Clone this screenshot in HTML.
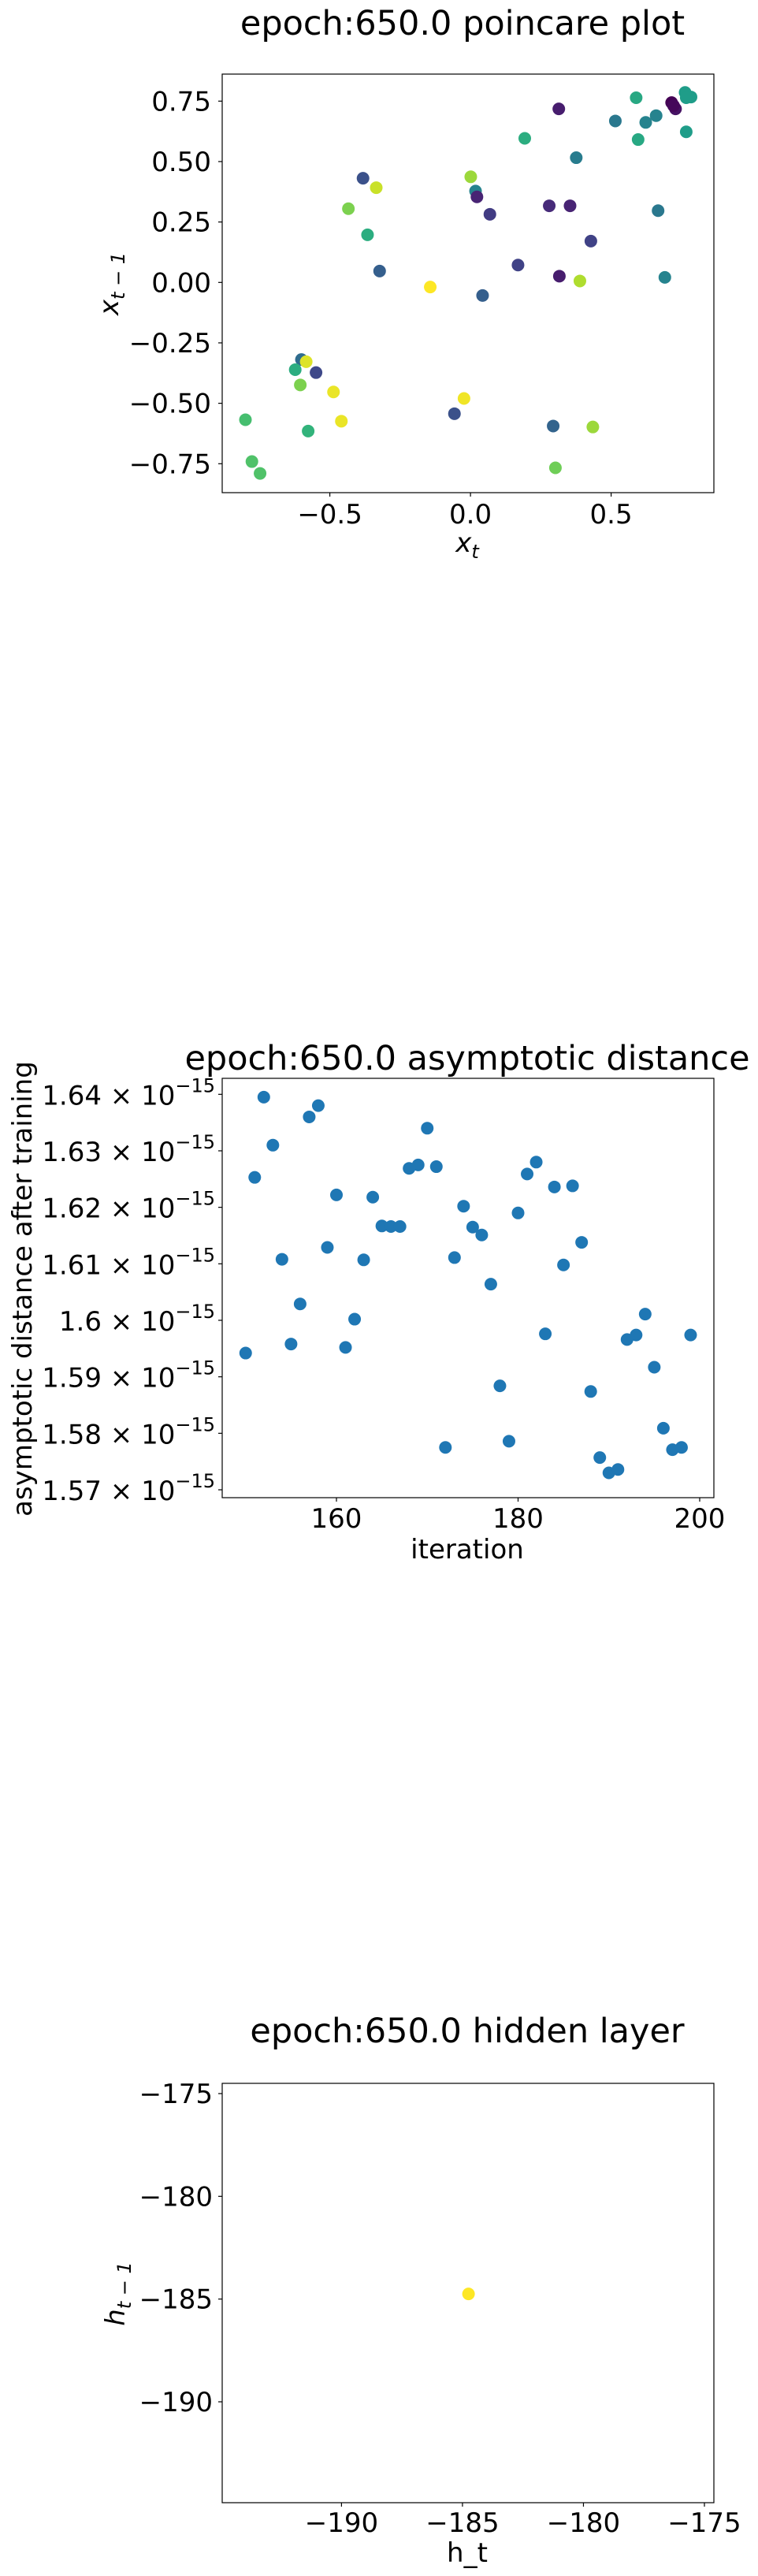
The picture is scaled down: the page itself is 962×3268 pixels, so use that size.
<!DOCTYPE html>
<html><head><meta charset="utf-8"><title>epoch 650 plots</title>
<style>
html,body{margin:0;padding:0;background:#fff;}
svg{display:block;font-family:"DejaVu Sans","Liberation Sans",sans-serif;}
</style></head>
<body>
<svg id="fig" width="962" height="3268" viewBox="0 0 962 3268" xmlns="http://www.w3.org/2000/svg"></svg>
<script>
// ---- Chart 1: poincare plot data ----
const poincareX = [0.715,0.729,0.722,0.763,0.784,0.767,0.589,0.314,0.515,0.623,0.660,0.767,0.596,0.193,0.376,-0.382,-0.335,0.001,0.018,0.023,0.069,0.280,0.354,-0.434,0.667,-0.366,0.428,0.169,-0.323,0.316,0.389,0.691,-0.143,0.043,-0.601,-0.584,-0.623,-0.549,-0.605,-0.487,-0.023,-0.057,-0.800,-0.459,-0.577,0.294,0.435,-0.777,-0.748,0.302];
const poincareY = [0.744,0.718,0.731,0.786,0.767,0.764,0.764,0.718,0.668,0.662,0.690,0.623,0.591,0.596,0.516,0.431,0.392,0.437,0.378,0.354,0.282,0.317,0.317,0.305,0.297,0.197,0.171,0.072,0.047,0.026,0.006,0.021,-0.019,-0.054,-0.319,-0.328,-0.361,-0.373,-0.424,-0.453,-0.480,-0.543,-0.568,-0.574,-0.615,-0.594,-0.598,-0.741,-0.790,-0.767];
const poincareC = [0.0,0.05,0.02,0.55,0.55,0.55,0.6,0.08,0.4,0.45,0.45,0.55,0.6,0.62,0.42,0.25,0.92,0.85,0.45,0.1,0.18,0.12,0.1,0.8,0.4,0.62,0.2,0.2,0.3,0.08,0.88,0.45,1.0,0.3,0.35,0.95,0.62,0.22,0.8,0.97,0.98,0.25,0.7,0.97,0.65,0.32,0.85,0.72,0.72,0.78];
const poincareXTicks = [-0.5,0.0,0.5];
const poincareXTickLabels = ["\u22120.5","0.0","0.5"];
const poincareYTicks = [0.75,0.5,0.25,0,-0.25,-0.5,-0.75];
const poincareYTickLabels = ["0.75","0.50","0.25","0.00","\u22120.25","\u22120.50","\u22120.75"];

// ---- Chart 2: asymptotic distance data (units of 1e-15) ----
const iterations = [150,151,152,153,154,155,156,157,158,159,160,161,162,163,164,165,166,167,168,169,170,171,172,173,174,175,176,177,178,179,180,181,182,183,184,185,186,187,188,189,190,191,192,193,194,195,196,197,198,199];
const asymDist = [1.5942,1.6253,1.6395,1.6310,1.6108,1.5958,1.6029,1.6360,1.6380,1.6129,1.6222,1.5952,1.6002,1.6107,1.6218,1.6167,1.6166,1.6166,1.6269,1.6275,1.6340,1.6272,1.5775,1.6111,1.6202,1.6165,1.6151,1.6064,1.5884,1.5786,1.6190,1.6259,1.6280,1.5976,1.6236,1.6098,1.6238,1.6138,1.5874,1.5757,1.5730,1.5736,1.5966,1.5974,1.6011,1.5917,1.5809,1.5771,1.5775,1.5974];
const asymXTicks = [160,180,200];
const asymXTickLabels = ["160","180","200"];
const asymYTicks = [1.64,1.63,1.62,1.61,1.60,1.59,1.58,1.57];
const asymYTickLabels = ["1.64","1.63","1.62","1.61","1.6","1.59","1.58","1.57"];

// ---- Chart 3: hidden layer data ----
const hiddenX = [-184.75];
const hiddenY = [-184.75];
const hiddenC = [1.0];
const hiddenXTicks = [-190,-185,-180,-175];
const hiddenXTickLabels = ["\u2212190","\u2212185","\u2212180","\u2212175"];
const hiddenYTicks = [-175,-180,-185,-190];
const hiddenYTickLabels = ["\u2212175","\u2212180","\u2212185","\u2212190"];

const NS = "http://www.w3.org/2000/svg";
const fig = document.getElementById('fig');
function mk(tag, attrs, parent){
  const e = document.createElementNS(NS, tag);
  for (const k in attrs) e.setAttribute(k, attrs[k]);
  (parent||fig).appendChild(e);
  return e;
}
const VIR = [[68,1,84],[72,40,120],[62,73,137],[49,104,142],[38,130,142],[31,158,137],[53,183,121],[110,206,88],[181,222,43],[253,231,37]];
function viridis(t){
  t = Math.max(0, Math.min(1, t));
  const s = t*(VIR.length-1), i = Math.min(Math.floor(s), VIR.length-2), f = s-i;
  const c = VIR[i].map((v,k)=>Math.round(v+(VIR[i+1][k]-v)*f));
  return `rgb(${c[0]},${c[1]},${c[2]})`;
}
function scale(d0,d1,r0,r1){ return v => r0 + (v-d0)/(d1-d0)*(r1-r0); }

function frame(g, L, T, R, B){
  const r = mk('rect',{x:L,y:T,width:R-L,height:B-T,fill:'none',stroke:'#000','stroke-width':1.2},g);
  
  
}
function xTicks(g, ticks, labels, sx, B, ly){
  ticks.forEach((v,i)=>{
    const x = sx(v);
    const t = mk('line',{x1:x,x2:x,y1:B,y2:B+5,stroke:'#000','stroke-width':1.2},g);
    
    
    const l = mk('text',{x:x,y:ly,'font-size':34,'text-anchor':'middle',fill:'#000'},g);
    l.textContent = labels[i];
    
    
  });
}
function yTicks(g, ticks, labels, sy, L, lx){
  ticks.forEach((v,i)=>{
    const y = sy(v);
    const t = mk('line',{x1:L-5,x2:L,y1:y,y2:y,stroke:'#000','stroke-width':1.2},g);
    
    
    const l = mk('text',{x:lx,y:y+12,'font-size':34,'text-anchor':'end',fill:'#000'},g);
    l.textContent = labels[i];
    
    
  });
}
function dot(g, x, y, color){
  const c = mk('circle',{cx:x,cy:y,r:8,fill:color},g);
  
  
}

// ===== Chart 1 =====
(function(){
  const g = mk('g',{});
  
  
  const L=282,R=906,T=94,B=625;
  const sx = scale(-0.5,0.5,418.6,775.6);
  const sy = scale(0.75,-0.75,128.3,588.3);
  const ti = mk('text',{x:587,y:44,'font-size':43,'text-anchor':'middle'},g);
  ti.textContent='epoch:650.0 poincare plot';
  
  
  poincareX.forEach((v,i)=>dot(g, sx(v), sy(poincareY[i]), viridis(poincareC[i])));
  frame(g,L,T,R,B);
  xTicks(g, poincareXTicks, poincareXTickLabels, sx, B, 664);
  yTicks(g, poincareYTicks, poincareYTickLabels, sy, L, 268);
  const xl = mk('text',{x:593,y:700,'font-size':34,'text-anchor':'middle','font-style':'italic'},g);
  xl.innerHTML='x<tspan font-size="24" dy="8">t</tspan>';
  
  
  const yl = mk('text',{x:0,y:0,'font-size':34,'text-anchor':'middle','font-style':'italic',transform:'translate(150,360) rotate(-90)'},g);
  yl.innerHTML='x<tspan font-size="24" dy="8">t \u2212 1</tspan>';
  
  
})();

// ===== Chart 2 =====
(function(){
  const g = mk('g',{});
  
  
  const L=282,R=906,T=1368,B=1900;
  const sx = scale(160,200,427,888);
  const sy = scale(1.64,1.57,1388.3,1890);
  const ti = mk('text',{x:593,y:1357,'font-size':43,'text-anchor':'middle'},g);
  ti.textContent='epoch:650.0 asymptotic distance';
  
  
  iterations.forEach((v,i)=>dot(g, sx(v), sy(asymDist[i]), '#1f77b4'));
  frame(g,L,T,R,B);
  xTicks(g, asymXTicks, asymXTickLabels, sx, B, 1938);
  asymYTicks.forEach((v,i)=>{
    const y = sy(v);
    const t = mk('line',{x1:L-5,x2:L,y1:y,y2:y,stroke:'#000','stroke-width':1.2},g);
    
    
    const l = mk('text',{x:273,y:y+13,'font-size':34,'text-anchor':'end'},g);
    l.innerHTML = asymYTickLabels[i] + ' \u00d7 10<tspan font-size="24" dy="-16">\u221215</tspan>';
    
    
  });
  const xl = mk('text',{x:593,y:1977,'font-size':34,'text-anchor':'middle'},g);
  xl.textContent='iteration';
  
  
  const yl = mk('text',{x:0,y:0,'font-size':34,'text-anchor':'middle',transform:'translate(40,1635) rotate(-90)'},g);
  yl.textContent='asymptotic distance after training';
  
  
})();

// ===== Chart 3 =====
(function(){
  const g = mk('g',{});
  
  
  const L=282,R=906,T=2643,B=3175;
  const sx = scale(-190,-175,433.4,894);
  const sy = scale(-175,-190,2656,3047);
  const ti = mk('text',{x:593,y:2591,'font-size':43,'text-anchor':'middle'},g);
  ti.textContent='epoch:650.0 hidden layer';
  
  
  hiddenX.forEach((v,i)=>dot(g, sx(v), sy(hiddenY[i]), viridis(hiddenC[i])));
  frame(g,L,T,R,B);
  xTicks(g, hiddenXTicks, hiddenXTickLabels, sx, B, 3212);
  yTicks(g, hiddenYTicks, hiddenYTickLabels, sy, L, 270);
  const xl = mk('text',{x:593,y:3250,'font-size':34,'text-anchor':'middle'},g);
  xl.textContent='h_t';
  
  
  const yl = mk('text',{x:0,y:0,'font-size':34,'text-anchor':'middle','font-style':'italic',transform:'translate(158,2910) rotate(-90)'},g);
  yl.innerHTML='h<tspan font-size="24" dy="8">t \u2212 1</tspan>';
  
  
})();
</script>
</body></html>
